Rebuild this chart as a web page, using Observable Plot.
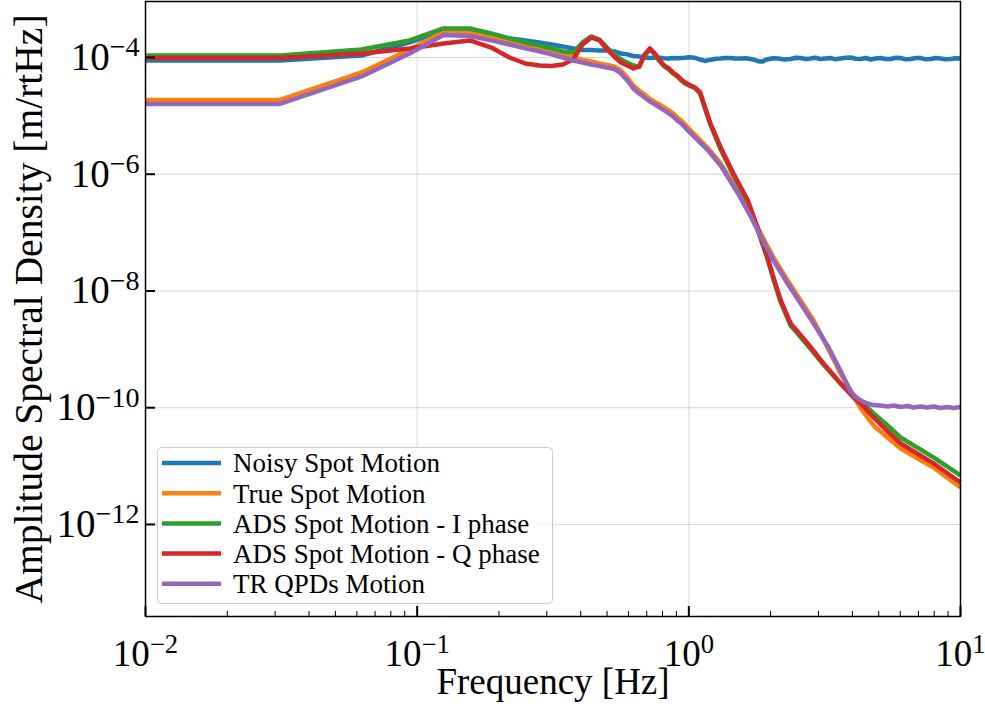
<!DOCTYPE html>
<html>
<head>
<meta charset="utf-8">
<script src="https://cdn.jsdelivr.net/npm/d3@7"></script>
<script src="https://cdn.jsdelivr.net/npm/@observablehq/plot@0.6"></script>
<style>
  html, body { margin: 0; padding: 0; background: #fff; }
  #chart { width: 985px; height: 706px; }
  #chart svg text { font-family: 'Liberation Serif', 'DejaVu Serif', serif; }
</style>
</head>
<body>
<div id="chart"></div>
<script>
// ---------- data ----------
const seriesNames = ["Noisy Spot Motion", "True Spot Motion", "ADS Spot Motion - I phase", "ADS Spot Motion - Q phase", "TR QPDs Motion"];
const seriesColors = ["#1f77b4", "#ff7f0e", "#2ca02c", "#d62728", "#9467bd"];

// shared low-frequency bins [Hz]
const fLow = [0.01, 0.03125, 0.0625, 0.09375, 0.125, 0.15625, 0.1875, 0.21875, 0.25, 0.28125, 0.3125, 0.34375, 0.375, 0.40625, 0.4375, 0.46875, 0.5, 0.53125, 0.5625, 0.59375, 0.625, 0.65625, 0.6875, 0.71875, 0.75, 0.78125, 0.8125, 0.84375, 0.875, 0.90625, 0.9375, 0.96875, 1.0];

// ASD values [m/rtHz] at fLow
const noisyLow = [8.89e-5, 8.89e-5, 1.08e-4, 1.81e-4, 2.84e-4, 2.79e-4, 2.38e-4, 2.12e-4, 1.96e-4, 1.81e-4, 1.67e-4, 1.54e-4, 1.43e-4, 1.34e-4, 1.34e-4, 1.32e-4, 1.32e-4, 1.27e-4, 1.17e-4, 1.13e-4, 1.06e-4, 1.04e-4, 1.00e-4, 9.80e-5, 1.00e-4, 9.9e-5, 9.7e-5, 9.6e-5, 9.8e-5, 9.7e-5, 9.8e-5, 9.9e-5, 1.01e-4];
const trueLow = [1.87e-5, 1.87e-5, 5.53e-5, 1.37e-4, 2.73e-4, 2.63e-4, 2.20e-4, 1.88e-4, 1.61e-4, 1.43e-4, 1.27e-4, 1.13e-4, 1.00e-4, 9.06e-5, 8.54e-5, 7.89e-5, 7.44e-5, 7.01e-5, 5.99e-5, 4.54e-5, 3.31e-5, 2.72e-5, 2.32e-5, 1.95e-5, 1.73e-5, 1.57e-5, 1.39e-5, 1.24e-5, 1.10e-5, 9.38e-6, 8.33e-6, 7.11e-6, 6.08e-6];
const adsILow = [1.08e-4, 1.08e-4, 1.37e-4, 1.96e-4, 3.14e-4, 3.14e-4, 2.58e-4, 2.12e-4, 1.81e-4, 1.61e-4, 1.43e-4, 1.27e-4, 1.22e-4, 1.81e-4, 2.29e-4, 2.03e-4, 1.48e-4, 1.13e-4, 9.24e-5, 8.21e-5, 7.29e-5, 6.87e-5, 1.08e-4, 1.37e-4, 1.13e-4, 8.54e-5, 7.01e-5, 6.23e-5, 5.32e-5, 4.73e-5, 4.04e-5, 3.59e-5, 3.31e-5];
const adsQLow = [9.80e-5, 9.80e-5, 1.17e-4, 1.43e-4, 1.74e-4, 1.96e-4, 1.48e-4, 1.00e-4, 7.89e-5, 7.29e-5, 7.15e-5, 7.59e-5, 9.24e-5, 1.67e-4, 2.20e-4, 1.96e-4, 1.37e-4, 1.04e-4, 8.21e-5, 7.29e-5, 6.48e-5, 7.01e-5, 1.13e-4, 1.43e-4, 1.17e-4, 8.89e-5, 7.29e-5, 6.48e-5, 5.53e-5, 4.91e-5, 4.20e-5, 3.73e-5, 3.45e-5];
const trLow = [1.60e-5, 1.60e-5, 4.73e-5, 1.17e-4, 2.43e-4, 2.34e-4, 1.96e-4, 1.67e-4, 1.43e-4, 1.27e-4, 1.13e-4, 1.00e-4, 8.89e-5, 8.21e-5, 7.59e-5, 7.15e-5, 6.74e-5, 6.35e-5, 5.32e-5, 4.04e-5, 2.94e-5, 2.42e-5, 2.06e-5, 1.76e-5, 1.57e-5, 1.39e-5, 1.24e-5, 1.10e-5, 9.75e-6, 8.33e-6, 7.40e-6, 6.32e-6, 5.40e-6];

// above 1 Hz
const noisyHighF = [1.03, 1.06, 1.08, 1.10, 1.13, 1.15, 1.18, 1.22, 1.26, 1.31, 1.36, 1.42, 1.48, 1.55, 1.62, 1.69, 1.74, 1.79, 1.83, 1.87, 1.92, 1.97, 2.05, 2.14, 2.25, 2.37, 2.47, 2.58, 2.69, 2.80, 2.92, 3.05, 3.18, 3.32, 3.47, 3.62, 3.78, 3.94, 4.11, 4.29, 4.48, 4.67, 4.87, 5.08, 5.30, 5.53, 5.77, 6.02, 6.28, 6.55, 6.84, 7.13, 7.44, 7.76, 8.10, 8.45, 8.81, 9.19, 9.59, 10.0];
const noisyHigh = [1.0e-4, 9.80e-5, 9.5e-5, 9.24e-5, 8.9e-5, 8.71e-5, 9.0e-5, 9.24e-5, 9.5e-5, 9.61e-5, 9.8e-5, 9.80e-5, 9.6e-5, 9.61e-5, 9.7e-5, 9.43e-5, 9.1e-5, 8.71e-5, 8.5e-5, 8.54e-5, 9.1e-5, 9.43e-5, 9.7e-5, 9.61e-5, 9.2e-5, 9.43e-5, 9.9e-5, 9.80e-5, 9.4e-5, 9.61e-5, 9.9e-5, 9.43e-5, 9.6e-5, 9.80e-5, 9.3e-5, 9.61e-5, 9.9e-5, 1.00e-4, 9.5e-5, 9.43e-5, 9.8e-5, 9.24e-5, 9.6e-5, 9.80e-5, 9.4e-5, 9.43e-5, 9.9e-5, 9.80e-5, 9.3e-5, 9.43e-5, 9.8e-5, 9.80e-5, 9.3e-5, 9.43e-5, 9.8e-5, 9.61e-5, 9.3e-5, 9.43e-5, 9.7e-5, 9.61e-5];

const trueHighF = [1.17, 1.31, 1.51, 1.69, 1.84, 2.05, 2.31, 2.58, 2.88, 3.24, 3.62, 3.94, 4.29, 4.79, 5.39, 6.02, 7.95, 10.0];
const trueHigh = [2.87e-6, 1.53e-6, 5.27e-7, 2.13e-7, 9.66e-8, 3.75e-8, 1.51e-8, 6.88e-9, 3.12e-9, 1.08e-9, 3.86e-10, 1.98e-10, 9.71e-11, 4.97e-11, 3.09e-11, 2.00e-11, 9.47e-12, 4.30e-12];

const adsHighF = [1.05, 1.10, 1.20, 1.31, 1.46, 1.65, 1.79, 1.95, 2.05, 2.18, 2.37, 2.74, 3.13, 3.62, 4.04, 4.29, 4.79, 5.39, 6.02, 7.95, 10.0];
const adsIHigh = [3.0e-5, 2.42e-5, 7.11e-6, 2.65e-6, 9.52e-7, 3.28e-7, 1.13e-7, 3.46e-8, 1.57e-8, 6.35e-9, 2.56e-9, 1.16e-9, 5.51e-10, 2.60e-10, 1.62e-10, 1.33e-10, 7.97e-11, 4.97e-11, 3.09e-11, 1.41e-11, 6.91e-12];
const adsQHigh = [3.1e-5, 2.54e-5, 7.40e-6, 2.87e-6, 1.03e-6, 3.55e-7, 1.22e-7, 3.75e-8, 1.70e-8, 6.88e-9, 2.78e-9, 1.26e-9, 5.73e-10, 2.60e-10, 1.50e-10, 1.18e-10, 6.81e-11, 3.92e-11, 2.44e-11, 1.11e-11, 5.24e-12];

const trHighF = [1.17, 1.31, 1.51, 1.69, 1.84, 2.05, 2.31, 2.58, 2.88, 3.24, 3.62, 3.94, 4.10, 4.29, 4.55, 4.79, 5.08, 5.39, 5.67, 6.02, 6.38, 6.72, 7.13, 7.56, 7.97, 8.45, 8.96, 9.43, 10.0];
const trHigh = [2.65e-6, 1.41e-6, 4.87e-7, 1.89e-7, 8.58e-8, 3.33e-8, 1.34e-8, 6.11e-9, 2.78e-9, 1.16e-9, 4.26e-10, 1.90e-10, 1.56e-10, 1.33e-10, 1.18e-10, 1.11e-10, 1.09e-10, 1.05e-10, 1.09e-10, 1.03e-10, 1.07e-10, 1.01e-10, 1.05e-10, 1.01e-10, 1.05e-10, 9.90e-11, 1.03e-10, 9.90e-11, 1.03e-10];

// axes
const xMajor = [0.01, 0.1, 1, 10];
const xMinor = [0.02, 0.03, 0.04, 0.05, 0.06, 0.07, 0.08, 0.09, 0.2, 0.3, 0.4, 0.5, 0.6, 0.7, 0.8, 0.9, 2, 3, 4, 5, 6, 7, 8, 9];
const yMajor = [1e-12, 1e-10, 1e-8, 1e-6, 1e-4];
const xDomain = [0.01, 10];
const yDomain = [2.65e-14, 9.1e-4];
const xLabel = "Frequency [Hz]";
const yLabel = "Amplitude Spectral Density [m/rtHz]";

// ---------- build ----------
function build(fA, vA, fB, vB) {
  const out = fA.map((f, i) => ({f, a: vA[i]}));
  fB.forEach((f, i) => out.push({f, a: vB[i]}));
  return out;
}
const series = [
  build(fLow, noisyLow, noisyHighF, noisyHigh),
  build(fLow, trueLow, trueHighF, trueHigh),
  build(fLow, adsILow, adsHighF, adsIHigh),
  build(fLow, adsQLow, adsHighF, adsQHigh),
  build(fLow, trLow, trHighF, trHigh)
];

const FONT = "'Liberation Serif', 'DejaVu Serif', serif";
const W = 985, H = 706, mL = 145, mR = 25, mT = 1, mB = 90;
const innerW = W - mL - mR, innerH = H - mT - mB;
const supFmt = d => "10^" + String(Math.round(Math.log10(d))).replace("-", "\u2212");

const chart = Plot.plot({
  width: W, height: H,
  marginLeft: mL, marginRight: mR, marginTop: mT, marginBottom: mB,
  x: {type: "log", domain: xDomain},
  y: {type: "log", domain: yDomain},
  style: {fontFamily: FONT, background: "#fff", color: "#000"},
  marks: [
    Plot.gridX(xMajor, {stroke: "#b0b0b0", strokeOpacity: 0.5, strokeWidth: 1}),
    Plot.gridY(yMajor, {stroke: "#b0b0b0", strokeOpacity: 0.5, strokeWidth: 1}),
    ...series.map((s, i) => Plot.line(s, {x: "f", y: "a", stroke: seriesColors[i], strokeWidth: 4.5, strokeLinejoin: "round", strokeLinecap: "butt"})),
    Plot.frame({stroke: "#000", strokeWidth: 1.5}),
    Plot.tickX(xMajor, {x: d => d, stroke: "#000", strokeWidth: 2, insetTop: innerH - 10}),
    Plot.tickX(xMinor, {x: d => d, stroke: "#000", strokeWidth: 1, insetTop: innerH - 5}),
    Plot.tickY(yMajor, {y: d => d, stroke: "#000", strokeWidth: 2, insetRight: innerW - 10}),
    Plot.axisX(xMajor, {tickSize: 0, tickPadding: 23, tickFormat: supFmt, fontSize: 37, label: null, fontFamily: FONT}),
    Plot.axisY(yMajor, {tickSize: 0, tickPadding: 6, tickFormat: supFmt, fontSize: 39, label: null, fontFamily: FONT}),
    Plot.text([xLabel], {frameAnchor: "bottom", text: d => d, dy: 77, fontSize: 37, fontFamily: FONT, textAnchor: "middle"}),
    Plot.text([yLabel], {frameAnchor: "left", text: d => d, rotate: -90, dx: -116, fontSize: 39.5, fontFamily: FONT, textAnchor: "middle"})
  ]
});

// superscript exponents on tick labels
d3.select(chart).selectAll('g[aria-label="x-axis tick label"] text, g[aria-label="y-axis tick label"] text').each(function() {
  const t = this.textContent;
  if (!t.includes("^")) return;
  const [b, e] = t.split("^");
  const sel = d3.select(this);
  sel.text(null);
  sel.append("tspan").text(b);
  sel.append("tspan").attr("dy", "-0.48em").attr("font-size", "0.72em").text(e);
});

// legend (inside the axes, lower left)
const leg = d3.select(chart).append("g").attr("font-family", FONT).attr("text-anchor", "start");
leg.append("rect").attr("x", 157.5).attr("y", 447.5).attr("width", 395).attr("height", 156)
  .attr("rx", 4).attr("fill", "#fff").attr("fill-opacity", 0.8).attr("stroke", "#cccccc").attr("stroke-width", 1);
seriesNames.forEach((name, i) => {
  const y = 463 + i * 30.2;
  leg.append("line").attr("x1", 162).attr("x2", 221).attr("y1", y).attr("y2", y)
    .attr("stroke", seriesColors[i]).attr("stroke-width", 4.5);
  leg.append("text").attr("x", 233).attr("y", y).attr("dy", "0.35em").attr("font-size", 27)
    .attr("text-anchor", "start").attr("fill", "#000").text(name);
});

document.getElementById("chart").appendChild(chart);
</script>
</body>
</html>
